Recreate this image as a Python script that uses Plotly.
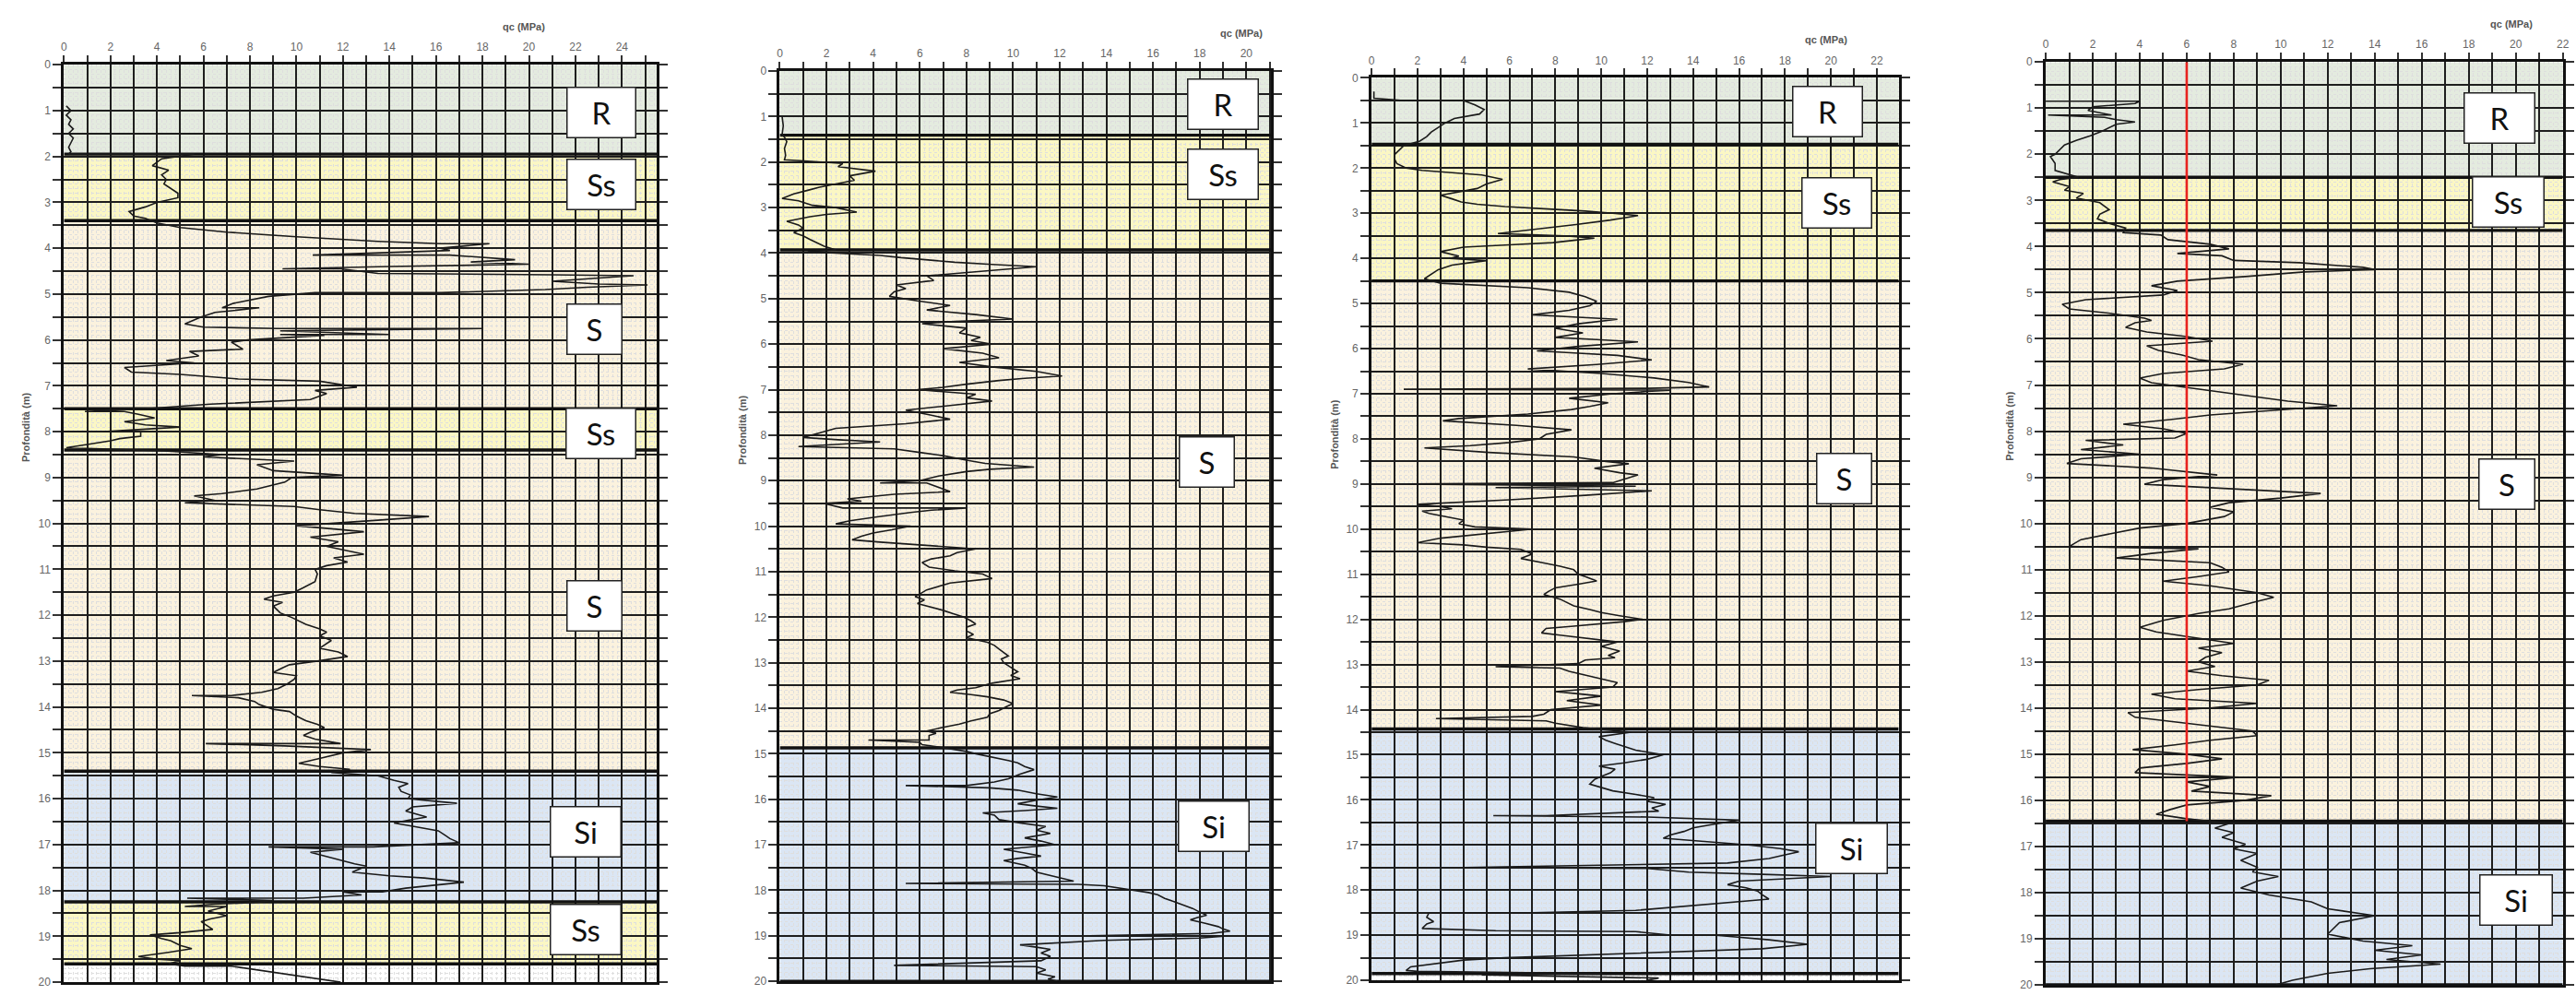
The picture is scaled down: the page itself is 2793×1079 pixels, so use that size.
import plotly.graph_objects as go

# ---------------- DATA ----------------
# Panel 1 (CPT trace: depth m, qc MPa)
p1_depth = [0.90,1.0,1.1,1.2,1.3,1.4,1.5,1.6,1.7,1.8,1.9,1.95,1.95,2.05,2.2,2.3,2.4,2.5,2.6,2.7,2.8,2.9,3.0,3.1,3.2,3.3,3.35,3.45,3.55,3.65,3.75,3.85,3.9,3.9,4.0,4.05,4.15,4.15,4.25,4.3,4.35,4.4,4.45,4.45,4.55,4.58,4.6,4.65,4.72,4.78,4.8,4.85,4.9,4.97,4.97,5.05,5.2,5.3,5.3,5.4,5.5,5.65,5.72,5.75,5.75,5.8,5.88,5.88,5.9,6.0,6.05,6.2,6.25,6.35,6.45,6.5,6.6,6.7,6.75,6.85,6.9,7.03,7.1,7.17,7.3,7.4,7.47,7.5,7.56,7.56,7.62,7.7,7.78,7.85,7.9,7.95,8.0,8.0,8.1,8.15,8.2,8.28,8.35,8.42,8.5,8.55,8.64,8.72,8.85,8.95,9.0,9.1,9.25,9.35,9.4,9.5,9.55,9.63,9.7,9.78,9.85,9.93,10.05,10.12,10.18,10.3,10.4,10.5,10.6,10.67,10.75,10.84,10.92,11.0,11.1,11.27,11.4,11.5,11.58,11.65,11.72,11.8,11.95,12.05,12.2,12.3,12.37,12.45,12.55,12.65,12.72,12.8,12.9,13.0,13.08,13.15,13.25,13.32,13.4,13.5,13.6,13.68,13.75,13.75,13.8,13.88,13.95,14.05,14.1,14.2,14.3,14.38,14.45,14.55,14.62,14.7,14.8,14.8,14.85,14.93,15.0,15.1,15.23,15.3,15.36,15.43,15.5,15.6,15.67,15.75,15.84,15.92,16.0,16.1,16.18,16.27,16.35,16.4,16.47,16.53,16.6,16.7,16.8,16.87,16.96,17.05,17.05,17.1,17.17,17.25,17.35,17.42,17.47,17.55,17.6,17.68,17.73,17.82,17.88,17.95,18.03,18.03,18.1,18.17,18.17,18.22,18.26,18.3,18.35,18.35,18.45,18.55,18.62,18.68,18.75,18.85,18.92,18.97,19.05,19.1,19.2,19.27,19.35,19.44,19.5,19.53,19.6,19.65,19.65,19.75,19.87,19.93,20.0]
p1_qc = [0.1,0.3,0.1,0.3,0.2,0.4,0.2,0.4,0.3,0.2,0.3,0.2,5.6,4.2,3.8,4.5,4.2,4.4,4.3,4.6,4.9,4.9,4.0,3.5,2.8,3.0,3.5,4.0,5.0,7.0,10.0,13.5,16.2,18.3,16.2,16.6,10.7,16.6,19.4,17.5,20.0,14.0,9.4,11.9,13.5,21.0,24.5,23.0,21.0,23.0,25.1,22.5,20.7,16.2,10.8,8.8,7.3,6.8,8.4,6.5,5.9,5.2,6.0,9.2,18.0,9.3,14.0,9.3,11.2,7.9,7.2,7.7,5.4,5.8,4.4,5.6,2.6,2.9,5.0,7.5,11.0,12.6,10.8,11.3,10.6,6.3,4.6,3.5,0.9,2.6,3.2,3.9,2.6,3.5,5.0,3.3,1.7,3.3,3.3,2.4,2.0,1.0,0.1,4.3,6.8,6.0,9.9,8.3,9.0,12.0,9.8,9.5,8.3,6.8,5.6,6.5,5.2,9.9,11.0,12.5,15.7,13.5,10.0,11.6,12.9,10.6,11.8,11.3,12.2,12.9,11.6,12.2,11.3,10.8,10.9,10.8,10.3,9.9,9.0,8.6,9.4,9.0,9.3,9.8,10.4,11.0,11.3,11.0,11.5,11.2,11.0,11.8,12.2,10.9,9.7,9.4,9.0,10.0,9.9,9.6,9.2,8.5,7.2,5.5,7.5,8.2,8.4,9.0,9.7,10.0,10.4,10.9,11.2,10.6,10.3,10.8,11.9,6.1,9.5,13.2,12.0,11.2,10.1,11.0,12.3,11.5,13.5,14.2,14.8,14.4,14.5,14.9,14.8,16.9,15.0,14.7,15.2,15.6,14.8,14.2,15.0,16.1,16.4,16.6,17.0,13.3,8.8,12.0,10.6,11.2,11.9,12.5,13.0,12.6,12.4,14.0,15.5,17.2,16.0,14.7,13.7,12.0,12.8,10.3,5.3,9.0,8.3,6.5,5.2,7.0,6.2,7.0,6.3,5.9,6.1,6.4,5.0,3.7,4.2,4.6,5.0,5.5,4.5,3.2,4.0,5.0,4.5,5.2,7.2,8.5,10.1,11.0,11.9]

# Panel 2
p2_depth = [1.0,1.2,1.4,1.45,1.55,1.7,1.85,1.95,1.97,2.0,2.03,2.1,2.2,2.3,2.4,2.45,2.55,2.62,2.7,2.8,2.85,2.95,3.0,3.1,3.15,3.2,3.3,3.38,3.45,3.55,3.62,3.7,3.78,3.85,3.93,3.97,4.0,4.05,4.1,4.15,4.2,4.25,4.3,4.35,4.4,4.45,4.5,4.6,4.7,4.78,4.85,4.95,5.05,5.15,5.25,5.35,5.45,5.5,5.55,5.65,5.75,5.85,5.92,6.0,6.1,6.2,6.3,6.4,6.5,6.6,6.7,6.75,6.8,6.88,6.95,7.0,7.1,7.18,7.25,7.35,7.45,7.55,7.65,7.75,7.8,7.85,7.95,8.05,8.1,8.15,8.25,8.3,8.38,8.45,8.55,8.62,8.7,8.75,8.8,8.9,9.0,9.05,9.05,9.15,9.24,9.3,9.4,9.45,9.5,9.6,9.6,9.65,9.7,9.8,9.88,9.95,10.0,10.08,10.15,10.22,10.3,10.35,10.4,10.45,10.5,10.58,10.65,10.72,10.8,10.9,10.98,11.05,11.15,11.25,11.32,11.4,11.55,11.62,11.7,11.78,11.85,11.92,12.0,12.08,12.15,12.22,12.3,12.38,12.45,12.55,12.62,12.7,12.78,12.85,12.92,13.0,13.1,13.2,13.28,13.35,13.45,13.55,13.6,13.65,13.7,13.75,13.82,13.9,13.97,14.05,14.12,14.2,14.28,14.35,14.42,14.5,14.55,14.6,14.7,14.7,14.75,14.8,14.85,14.9,14.95,15.0,15.05,15.1,15.15,15.2,15.28,15.35,15.45,15.55,15.62,15.7,15.7,15.75,15.8,15.88,15.95,16.02,16.1,16.15,16.2,16.25,16.3,16.35,16.45,16.52,16.6,16.68,16.75,16.85,16.92,17.0,17.05,17.1,17.18,17.25,17.3,17.35,17.45,17.52,17.6,17.7,17.8,17.85,17.87,17.9,17.95,18.0,18.05,18.1,18.18,18.25,18.32,18.4,18.48,18.55,18.6,18.65,18.72,18.8,18.85,18.9,18.95,19.0,19.0,19.05,19.1,19.15,19.2,19.25,19.3,19.38,19.45,19.5,19.55,19.65,19.68,19.75,19.82,19.9,19.95,20.0]
p2_qc = [0.1,0.15,0.1,0.2,0.3,0.2,0.25,0.2,0.9,2.0,2.7,2.5,4.1,3.0,3.2,2.7,1.7,1.2,0.6,0.1,0.8,1.4,2.4,3.3,2.0,1.3,0.3,0.8,1.0,0.6,1.0,1.3,1.6,1.9,2.4,1.2,2.4,4.3,5.2,6.4,7.5,9.1,11.0,9.8,8.7,7.5,6.3,6.6,5.0,5.4,4.9,4.7,5.9,7.3,6.3,8.4,10.0,7.5,6.1,8.0,7.7,8.6,8.2,9.1,7.0,8.7,9.4,7.7,9.1,11.0,12.1,10.5,9.4,8.0,7.0,5.9,8.4,8.0,9.1,7.3,5.4,6.4,7.3,5.4,4.0,2.4,1.7,1.0,2.5,4.3,0.8,4.9,6.0,7.0,8.0,8.8,10.9,9.0,8.0,6.8,6.0,4.3,6.3,6.8,7.3,4.9,2.9,3.5,1.9,2.7,8.0,6.5,5.6,4.1,3.0,2.4,5.6,4.8,4.0,3.5,3.1,4.3,5.6,7.0,8.4,7.6,7.3,6.5,6.1,6.4,7.5,8.7,9.1,7.3,6.8,6.3,5.8,6.2,5.9,6.5,7.0,7.4,7.9,8.2,8.4,8.0,8.0,8.3,8.0,8.9,9.2,9.4,9.6,9.8,9.5,9.6,9.9,10.2,9.9,10.3,9.1,8.4,7.6,7.3,8.2,8.9,9.6,10.0,9.7,9.4,9.0,8.9,8.2,7.7,7.0,6.3,6.7,6.4,6.4,3.8,6.0,6.1,6.8,7.5,8.0,8.4,8.9,9.4,9.8,10.2,10.5,10.9,10.3,9.8,9.2,8.0,5.4,9.0,10.2,11.0,11.9,11.0,10.2,11.0,11.9,10.5,8.7,9.2,9.4,10.3,11.4,11.0,11.6,10.5,11.2,11.8,10.8,9.6,10.5,11.2,10.2,9.6,10.5,10.8,11.0,11.8,12.6,5.4,12.8,13.9,14.6,15.3,15.8,16.2,16.5,16.9,17.3,17.7,18.0,18.3,17.9,17.6,18.2,18.8,19.0,19.3,18.5,13.3,19.3,18.0,13.9,12.0,10.3,11.0,11.6,11.2,11.6,11.4,11.2,4.9,11.0,11.4,11.0,11.8,11.5,11.9]

# Panel 3
p3_depth = [0.3,0.45,0.5,0.5,0.6,0.7,0.8,0.9,1.0,1.1,1.2,1.3,1.4,1.5,1.6,1.7,1.8,1.9,2.0,2.05,2.1,2.15,2.25,2.35,2.45,2.5,2.6,2.68,2.75,2.8,2.85,2.9,2.95,3.0,3.05,3.1,3.15,3.25,3.35,3.45,3.5,3.55,3.6,3.65,3.7,3.75,3.85,3.95,4.0,4.05,4.1,4.15,4.25,4.35,4.45,4.55,4.6,4.65,4.75,4.85,4.95,5.05,5.15,5.25,5.3,5.35,5.45,5.55,5.65,5.75,5.8,5.85,5.95,6.05,6.1,6.15,6.25,6.35,6.45,6.5,6.55,6.65,6.75,6.85,6.88,6.9,6.92,6.95,7.0,7.1,7.2,7.28,7.35,7.45,7.5,7.55,7.6,7.7,7.8,7.9,8.0,8.08,8.15,8.2,8.3,8.4,8.5,8.55,8.65,8.75,8.8,8.9,8.97,9.0,9.03,9.05,9.08,9.12,9.15,9.25,9.35,9.45,9.5,9.55,9.6,9.65,9.72,9.8,9.88,9.95,10.0,10.05,10.1,10.2,10.3,10.35,10.4,10.45,10.55,10.65,10.75,10.82,10.9,11.0,11.05,11.15,11.22,11.3,11.38,11.45,11.55,11.62,11.7,11.78,11.85,11.92,12.0,12.05,12.1,12.15,12.2,12.3,12.35,12.4,12.45,12.5,12.6,12.7,12.8,12.85,12.9,12.98,13.05,13.08,13.15,13.22,13.3,13.4,13.5,13.55,13.6,13.65,13.7,13.8,13.9,14.0,14.1,14.15,14.2,14.25,14.3,14.4,14.5,14.6,14.68,14.75,14.82,14.9,15.0,15.1,15.18,15.25,15.32,15.4,15.48,15.55,15.65,15.72,15.8,15.88,15.95,16.03,16.1,16.18,16.25,16.35,16.35,16.38,16.45,16.55,16.62,16.7,16.78,16.85,16.92,17.0,17.08,17.15,17.22,17.3,17.4,17.5,17.52,17.6,17.65,17.7,17.75,17.8,17.88,17.95,18.02,18.1,18.2,18.28,18.35,18.45,18.5,18.5,18.6,18.7,18.75,18.85,18.9,18.92,19.0,19.0,19.1,19.2,19.3,19.35,19.4,19.5,19.55,19.6,19.7,19.78,19.8,19.85,19.88,19.95,20.0]
p3_qc = [0.1,0.1,1.4,4.0,4.5,4.9,4.7,3.6,3.2,2.9,2.6,2.4,2.1,1.4,1.2,1.0,1.0,1.1,1.5,2.2,3.5,4.8,5.7,5.0,4.6,4.1,3.0,3.5,3.9,4.6,5.8,7.5,9.3,10.5,11.6,11.0,10.4,8.9,7.3,5.5,8.4,9.7,8.8,7.9,6.0,4.0,3.0,3.8,3.4,5.0,4.2,3.5,2.9,2.6,2.3,3.0,4.8,6.8,8.6,9.3,9.8,9.5,8.6,7.0,8.8,10.7,9.0,8.0,9.2,8.0,9.8,11.6,9.0,7.2,9.0,10.7,12.2,9.8,6.8,8.5,10.0,12.3,13.8,14.7,12.0,1.4,13.0,12.0,10.5,8.6,10.3,9.5,8.7,6.8,5.3,3.8,3.1,6.3,8.7,7.6,7.3,6.0,4.3,2.3,5.1,8.8,10.2,11.2,9.7,10.8,11.6,11.0,10.5,1.6,8.0,11.5,5.4,10.0,12.2,9.3,6.0,2.0,3.0,3.5,2.2,2.5,3.2,4.0,3.8,4.5,7.0,6.0,5.0,3.0,2.0,4.0,5.0,6.5,7.0,6.5,7.5,8.2,8.8,9.0,9.3,9.8,9.0,8.0,7.7,7.5,8.2,8.5,8.8,9.5,10.0,10.8,11.8,11.0,10.0,8.8,7.6,7.4,8.2,9.0,10.0,10.7,10.0,10.8,10.3,10.6,9.3,9.0,5.4,8.2,8.6,9.2,9.9,10.7,10.5,9.2,8.0,9.0,10.0,8.5,10.0,7.8,7.5,7.0,2.8,7.6,8.0,9.2,11.3,9.9,10.2,10.6,11.0,11.5,12.7,12.0,11.0,9.9,10.6,10.4,10.0,9.7,9.5,10.0,10.5,11.5,12.3,12.0,12.8,12.2,12.5,7.6,5.3,12.0,16.0,14.8,14.0,13.6,13.0,12.7,14.5,16.4,17.8,18.6,18.0,17.3,15.5,4.0,12.0,13.8,17.0,20.0,18.0,16.0,15.5,16.3,16.8,17.0,17.3,15.5,14.0,11.5,7.0,2.5,2.4,2.7,2.4,2.2,5.4,11.5,13.1,15.0,17.3,19.0,17.0,14.0,11.3,5.8,4.0,3.3,1.7,1.5,2.0,10.0,4.8,12.5,12.0]

# Panel 4
p4_depth = [0.85,0.85,0.9,0.97,1.05,1.15,1.15,1.2,1.25,1.3,1.35,1.4,1.5,1.6,1.7,1.8,1.9,2.0,2.05,2.2,2.35,2.5,2.55,2.6,2.7,2.78,2.85,2.95,3.05,3.2,3.3,3.4,3.5,3.6,3.7,3.75,3.85,3.95,4.05,4.15,4.2,4.3,4.35,4.45,4.5,4.55,4.65,4.75,4.85,4.95,5.05,5.15,5.25,5.35,5.45,5.55,5.6,5.65,5.75,5.85,5.95,6.05,6.15,6.25,6.35,6.45,6.55,6.65,6.75,6.85,6.95,7.05,7.15,7.25,7.35,7.45,7.55,7.65,7.75,7.85,7.95,8.05,8.15,8.2,8.3,8.4,8.5,8.6,8.7,8.8,8.95,9.05,9.15,9.25,9.35,9.45,9.55,9.65,9.75,9.85,10.0,10.1,10.25,10.35,10.5,10.55,10.65,10.75,10.85,10.95,11.05,11.15,11.25,11.35,11.5,11.6,11.7,11.85,11.95,12.1,12.25,12.35,12.45,12.6,12.7,12.8,12.9,13.0,13.1,13.2,13.3,13.4,13.5,13.6,13.7,13.8,13.9,14.0,14.1,14.2,14.35,14.5,14.6,14.7,14.8,14.9,15.0,15.1,15.2,15.3,15.4,15.5,15.6,15.7,15.8,15.9,16.0,16.1,16.2,16.3,16.4,16.5,16.6,16.7,16.8,16.95,17.05,17.15,17.3,17.45,17.55,17.65,17.75,17.9,18.05,18.2,18.35,18.5,18.65,18.75,18.9,19.05,19.15,19.25,19.35,19.45,19.55,19.65,19.75,19.9,20.0]
p4_qc = [0.0,4.0,3.8,2.0,1.8,2.8,0.1,2.5,3.0,3.8,3.0,2.8,2.4,1.9,1.3,0.8,0.6,0.4,0.2,0.4,0.4,1.4,0.6,0.3,1.0,0.8,1.6,1.3,2.3,2.7,2.3,2.2,2.7,3.4,3.3,4.9,5.2,7.0,7.8,5.6,7.5,8.0,10.8,13.5,14.0,11.0,8.5,5.6,4.5,5.6,5.0,1.7,0.7,1.0,2.8,4.2,4.5,3.8,3.4,4.3,6.0,7.1,4.3,4.8,5.8,6.5,8.4,7.6,5.0,4.0,4.5,6.0,7.5,9.0,10.3,12.4,9.5,7.0,5.3,3.3,5.0,6.0,5.5,1.7,3.3,1.5,4.0,1.5,0.9,4.5,7.3,5.0,4.2,8.0,11.7,10.0,7.8,7.0,8.0,7.6,6.0,4.0,2.5,1.5,1.0,6.5,4.5,3.0,7.0,7.5,7.8,6.5,5.0,7.0,9.0,9.7,8.9,7.8,6.5,5.0,4.0,4.7,6.0,8.0,6.5,7.5,6.8,6.5,7.2,6.0,7.5,9.5,9.0,6.5,4.5,5.5,9.0,7.0,3.5,3.8,6.3,8.8,9.0,7.0,5.5,3.7,6.0,7.5,6.0,4.0,3.8,8.2,6.0,7.0,6.2,9.6,8.5,6.0,5.3,4.7,6.0,7.8,7.2,8.0,7.5,8.5,8.0,9.0,8.3,9.0,8.8,9.9,9.0,8.3,9.5,11.3,12.0,14.0,12.5,12.3,12.0,13.5,15.6,14.0,16.0,14.5,16.8,13.8,12.0,10.5,9.8]

# Reference qc line in panel 4
p4_ref_qc = [6, 6]
p4_ref_depth = [0, 16.45]

# Stratigraphy (layer tops, bottoms, soil type) per panel
p1_tops = [0, 1.95, 3.4, 7.5, 8.4, 15.4, 18.25]
p1_bots = [1.95, 3.4, 7.5, 8.4, 15.4, 18.25, 19.6]
p1_soil = ["R", "Ss", "S", "Ss", "S", "Si", "Ss"]
p2_tops = [0, 1.41, 3.93, 14.87]
p2_bots = [1.41, 3.93, 14.87, 20]
p2_soil = ["R", "Ss", "S", "Si"]
p3_tops = [0, 1.47, 4.5, 14.43]
p3_bots = [1.47, 4.5, 14.43, 19.85]
p3_soil = ["R", "Ss", "S", "Si"]
p4_tops = [0, 2.5, 3.65, 16.45]
p4_bots = [2.5, 3.65, 16.45, 20]
p4_soil = ["R", "Ss", "S", "Si"]

# Tick labels
x_max_tick = [24, 20, 22, 22]

# ---------------- LAYOUT / STYLE ----------------
W, H = 2793, 1079
soil_colors = {"R": "#e4ebdf", "Ss": "#fbf7c4", "S": "#fbf2de", "Si": "#dbe6f4"}

# panel geometry in pixels: (left, right, top, bottom, xrange_max)
panels = [
    (66.6, 711.7, 64, 1072, 25.5),
    (845.5, 1379.8, 71, 1071, 21.05),
    (1489.5, 2063.0, 78.5, 1070, 22.95),
    (2223.0, 2785.6, 61, 1075, 22.0),
]
# label boxes (x centre MPa, y centre m, width px) per panel
label_pos = [
    [(23.1, 1.04, 76), (23.1, 2.6, 76), (22.8, 5.77, 61), (23.1, 8.03, 77), (22.8, 11.8, 61), (22.45, 16.73, 78), (22.45, 18.85, 78)],
    [(18.98, 0.72, 78), (18.98, 2.27, 78), (18.29, 8.58, 61), (18.6, 16.59, 78)],
    [(19.85, 0.75, 77), (20.25, 2.77, 77), (20.56, 8.88, 61), (20.9, 17.08, 79)],
    [(19.32, 1.21, 78), (19.66, 3.03, 79), (19.64, 9.15, 62), (20.0, 18.17, 80)],
]
ytitle_px = [25, 805, 1449, 2183]

data_sets = [
    (p1_depth, p1_qc, p1_tops, p1_bots, p1_soil),
    (p2_depth, p2_qc, p2_tops, p2_bots, p2_soil),
    (p3_depth, p3_qc, p3_tops, p3_bots, p3_soil),
    (p4_depth, p4_qc, p4_tops, p4_bots, p4_soil),
]

fig = go.Figure()
shapes = []
annotations = []
tickfont = dict(family="Liberation Sans", size=12, color="#666666")

for i, ((l, r, t, b, xmax), (dep, qc, tops, bots, soil)) in enumerate(zip(panels, data_sets)):
    n = i + 1
    xa = "x" if n == 1 else f"x{n}"
    ya = "y" if n == 1 else f"y{n}"
    xkey = "xaxis" if n == 1 else f"xaxis{n}"
    ykey = "yaxis" if n == 1 else f"yaxis{n}"

    # layer boundaries (thick lines), drawn as traces above the grid
    bx, by = [], []
    for bt in bots:
        bx += [0, xmax, None]
        by += [bt, bt, None]
    fig.add_trace(go.Scatter(x=bx, y=by, mode="lines", xaxis=xa, yaxis=ya,
                             line=dict(color="#111", width=3.4), showlegend=False,
                             hoverinfo="skip", cliponaxis=False))

    fig.add_trace(go.Scatter(x=qc, y=dep, mode="lines", xaxis=xa, yaxis=ya,
                             line=dict(color="#1a1a1a", width=1.6), showlegend=False,
                             hoverinfo="skip"))

    xt = list(range(0, int(xmax) + 1))
    xtext = [str(v) if v % 2 == 0 and v <= x_max_tick[i] else "" for v in xt]
    yt = [k * 0.5 for k in range(41)]
    ytext = [str(int(v)) if v == int(v) else "" for v in yt]

    fig.layout[xkey] = dict(
        domain=[l / W, r / W], range=[0, xmax], side="top", anchor=ya,
        tickmode="array", tickvals=xt, ticktext=xtext, ticks="outside", ticklen=7,
        tickcolor="#333", tickwidth=1.5, tickfont=tickfont,
        showgrid=True, gridcolor="#1e1e1e", gridwidth=1.8,
        minor=dict(dtick=0.2, showgrid=True, gridcolor="#dedede", griddash="dot", gridwidth=1),
        showline=True, linecolor="#111", linewidth=3, mirror=True, zeroline=False,
        fixedrange=True,
    )
    fig.layout[ykey] = dict(
        domain=[1 - b / H, 1 - t / H], range=[20, 0], anchor=xa,
        tickmode="array", tickvals=yt, ticktext=ytext, ticks="outside", ticklen=9,
        tickcolor="#333", tickwidth=1.8, tickfont=tickfont,
        showgrid=True, gridcolor="#1e1e1e", gridwidth=1.8,
        minor=dict(dtick=0.1, showgrid=True, gridcolor="#dedede", griddash="dot", gridwidth=1),
        showline=True, linecolor="#111", linewidth=3, mirror="ticks", zeroline=False,
        fixedrange=True,
    )

    # soil layer bands
    for tp, bt, s in zip(tops, bots, soil):
        shapes.append(dict(type="rect", xref=f"{xa} domain", yref=ya, x0=0, x1=1, y0=tp, y1=bt,
                           fillcolor=soil_colors[s], line=dict(width=0), layer="below"))

    # labels
    for (lx, ly, wpx), s in zip(label_pos[i], soil):
        annotations.append(dict(x=lx, y=ly, xref=xa, yref=ya, text=s, showarrow=False,
                                font=dict(family="Lato", size=33, color="#111"),
                                bgcolor="white", bordercolor="#222", borderwidth=1.5,
                                borderpad=0, width=wpx - 3, height=53,
                                xanchor="center", yanchor="middle"))
    # axis titles
    annotations.append(dict(x=19.8, y=1 - (t - 42) / H, xref=xa, yref="paper", text="<b>qc (MPa)</b>",
                            showarrow=False, font=dict(family="Liberation Sans", size=11, color="#555"),
                            xanchor="center", yanchor="middle"))
    annotations.append(dict(x=ytitle_px[i] / W, y=7.9, xref="paper", yref=ya, text="<b>Profondità (m)</b>",
                            textangle=-90, showarrow=False,
                            font=dict(family="Liberation Sans", size=11, color="#555"),
                            xanchor="center", yanchor="middle"))

fig.add_trace(go.Scatter(x=p4_ref_qc, y=p4_ref_depth, mode="lines", xaxis="x4", yaxis="y4",
                         line=dict(color="#e8231f", width=2.6), showlegend=False, hoverinfo="skip"))

fig.update_layout(
    width=W, height=H, margin=dict(l=0, r=0, t=0, b=0),
    paper_bgcolor="white", plot_bgcolor="white",
    shapes=shapes, annotations=annotations, showlegend=False,
)

fig.write_html("out.html", config={"displayModeBar": False})
